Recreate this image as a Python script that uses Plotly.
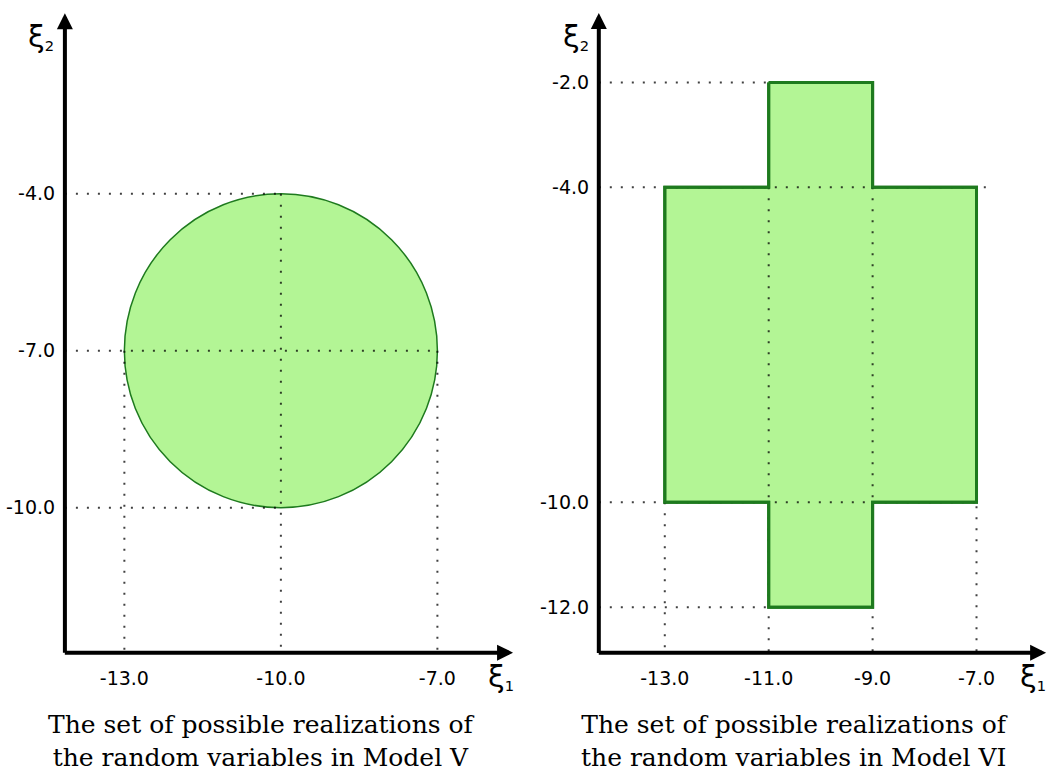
import plotly.graph_objects as go

# ---------------- data ----------------
# Model V: disc
circle_center = [-10.0, -7.0]
circle_radius = 3.0
left_xticks = [-13.0, -10.0, -7.0]
left_yticks = [-4.0, -7.0, -10.0]

# Model VI: cross-shaped polygon
cross_x = [-11, -9, -9, -7, -7, -9, -9, -11, -11, -13, -13, -11, -11]
cross_y = [-2, -2, -4, -4, -10, -10, -12, -12, -10, -10, -4, -4, -2]
right_xticks = [-13.0, -11.0, -9.0, -7.0]
right_yticks = [-2.0, -4.0, -10.0, -12.0]

# axis origins / arrow tips (data coords)
left_origin = [-14.14, -12.77]
left_tips = [-5.55, -0.55]
right_origin = [-14.27, -12.87]
right_tips = [-5.66, -0.68]

# dotted guide lines: (x0, y0, x1, y1); None -> axis position
left_guides = [
    (None, -4, -10, -4), (-10, -4, -10, None),
    (None, -7, -7, -7), (None, -10, -10, -10),
    (-13, -7, -13, None), (-7, -7, -7, None),
]
right_guides = [
    (None, -2, -11, -2), (None, -4, -6.8, -4),
    (None, -10, -7, -10), (None, -12, -11, -12),
    (-13, -10, -13, None), (-11, -4, -11, None),
    (-9, -4, -9, None), (-7, -4, -7, None),
]

caption_left = "The set of possible realizations of<br>the random variables in Model V"
caption_right = "The set of possible realizations of<br>the random variables in Model VI"

# ---------------- style ----------------
W, H = 1048, 779
FILL = "#b3f595"
EDGE = "#1e7a1e"
DOT = "rgba(0,0,0,0.75)"
TICKFONT = dict(family="DejaVu Sans", size=19, color="black")

fig = go.Figure()


def add_guides(guides, origin, xa, ya):
    for x0, y0, x1, y1 in guides:
        x0 = origin[0] if x0 is None else x0
        y1 = origin[1] if y1 is None else y1
        fig.add_trace(go.Scatter(
            x=[x0, x1], y=[y0, y1], mode="lines", xaxis=xa, yaxis=ya,
            line=dict(color=DOT, width=2, dash="2px,9px"),
            hoverinfo="skip", showlegend=False))


# Model V disc (shape in data coordinates, below traces)
fig.add_shape(type="circle", xref="x", yref="y",
              x0=circle_center[0] - circle_radius, x1=circle_center[0] + circle_radius,
              y0=circle_center[1] - circle_radius, y1=circle_center[1] + circle_radius,
              fillcolor=FILL, line=dict(color=EDGE, width=1.5), layer="below")
add_guides(left_guides, left_origin, "x", "y")

# Model VI cross
fig.add_trace(go.Scatter(x=cross_x, y=cross_y, mode="lines", fill="toself",
                         fillcolor=FILL, line=dict(color=EDGE, width=3),
                         xaxis="x2", yaxis="y2", hoverinfo="skip", showlegend=False))
add_guides(right_guides, right_origin, "x2", "y2")
# redraw the edge on top of guide dots
fig.add_trace(go.Scatter(x=cross_x, y=cross_y, mode="lines",
                         line=dict(color=EDGE, width=3),
                         xaxis="x2", yaxis="y2", hoverinfo="skip", showlegend=False))

# axes arrows
for xr, yr, org, tips in [("x", "y", left_origin, left_tips),
                          ("x2", "y2", right_origin, right_tips)]:
    fig.add_annotation(x=tips[0], y=org[1], ax=org[0] - 0.03, ay=org[1],
                       xref=xr, yref=yr, axref=xr, ayref=yr, text="",
                       showarrow=True, arrowhead=2, arrowsize=0.8,
                       arrowwidth=4, arrowcolor="black")
    fig.add_annotation(x=org[0], y=tips[1], ax=org[0], ay=org[1] - 0.03,
                       xref=xr, yref=yr, axref=xr, ayref=yr, text="",
                       showarrow=True, arrowhead=2, arrowsize=0.8,
                       arrowwidth=4, arrowcolor="black")

# axis variable labels
def px(xp, yp):
    return xp / W, 1 - yp / H

XI = "<span style='font-size:30px'>ξ</span><sub>%s</sub>"
for (xp, yp, t) in [(41, 36, XI % "2"), (576, 36, XI % "2"),
                    (501, 676, XI % "1"), (1033, 676, XI % "1")]:
    x, y = px(xp, yp)
    fig.add_annotation(x=x, y=y, xref="paper", yref="paper", text=t,
                       showarrow=False, xanchor="center", yanchor="middle",
                       font=dict(family="DejaVu Sans", size=21, color="black"))

for xp, t in [(261, caption_left), (795, caption_right)]:
    x, y = px(xp, 741)
    fig.add_annotation(x=x, y=y, xref="paper", yref="paper", text=t,
                       showarrow=False, xanchor="center", yanchor="middle",
                       font=dict(family="DejaVu Serif", size=25, color="black"))

common = dict(showgrid=False, zeroline=False, showline=False, fixedrange=True,
              tickfont=TICKFONT, anchor="free")

fig.update_layout(
    width=W, height=H, margin=dict(l=0, r=0, t=0, b=0),
    paper_bgcolor="white", plot_bgcolor="white", showlegend=False,
    xaxis=dict(domain=[0, 0.5], range=[-15.384, -5.340],
               tickvals=left_xticks, ticktext=[f"{v:.1f}" for v in left_xticks],
               position=1 - 652.7 / H, ticks="outside", ticklen=8,
               tickcolor="rgba(0,0,0,0)", **common),
    yaxis=dict(domain=[0, 1], range=[-15.185, -0.298],
               tickvals=left_yticks, ticktext=[f"{v:.1f}" for v in left_yticks],
               position=63 / W, ticks="outside", ticklen=4,
               tickcolor="rgba(0,0,0,0)", **common),
    xaxis2=dict(domain=[0.5, 1], range=[-15.710, -5.624],
                tickvals=right_xticks, ticktext=[f"{v:.1f}" for v in right_xticks],
                position=1 - 652.7 / H, ticks="outside", ticklen=8,
                tickcolor="rgba(0,0,0,0)", **common),
    yaxis2=dict(domain=[0, 1], range=[-15.274, -0.430],
                tickvals=right_yticks, ticktext=[f"{v:.1f}" for v in right_yticks],
                position=597 / W, ticks="outside", ticklen=4,
                tickcolor="rgba(0,0,0,0)", **common),
)

fig.write_html("out.html")
